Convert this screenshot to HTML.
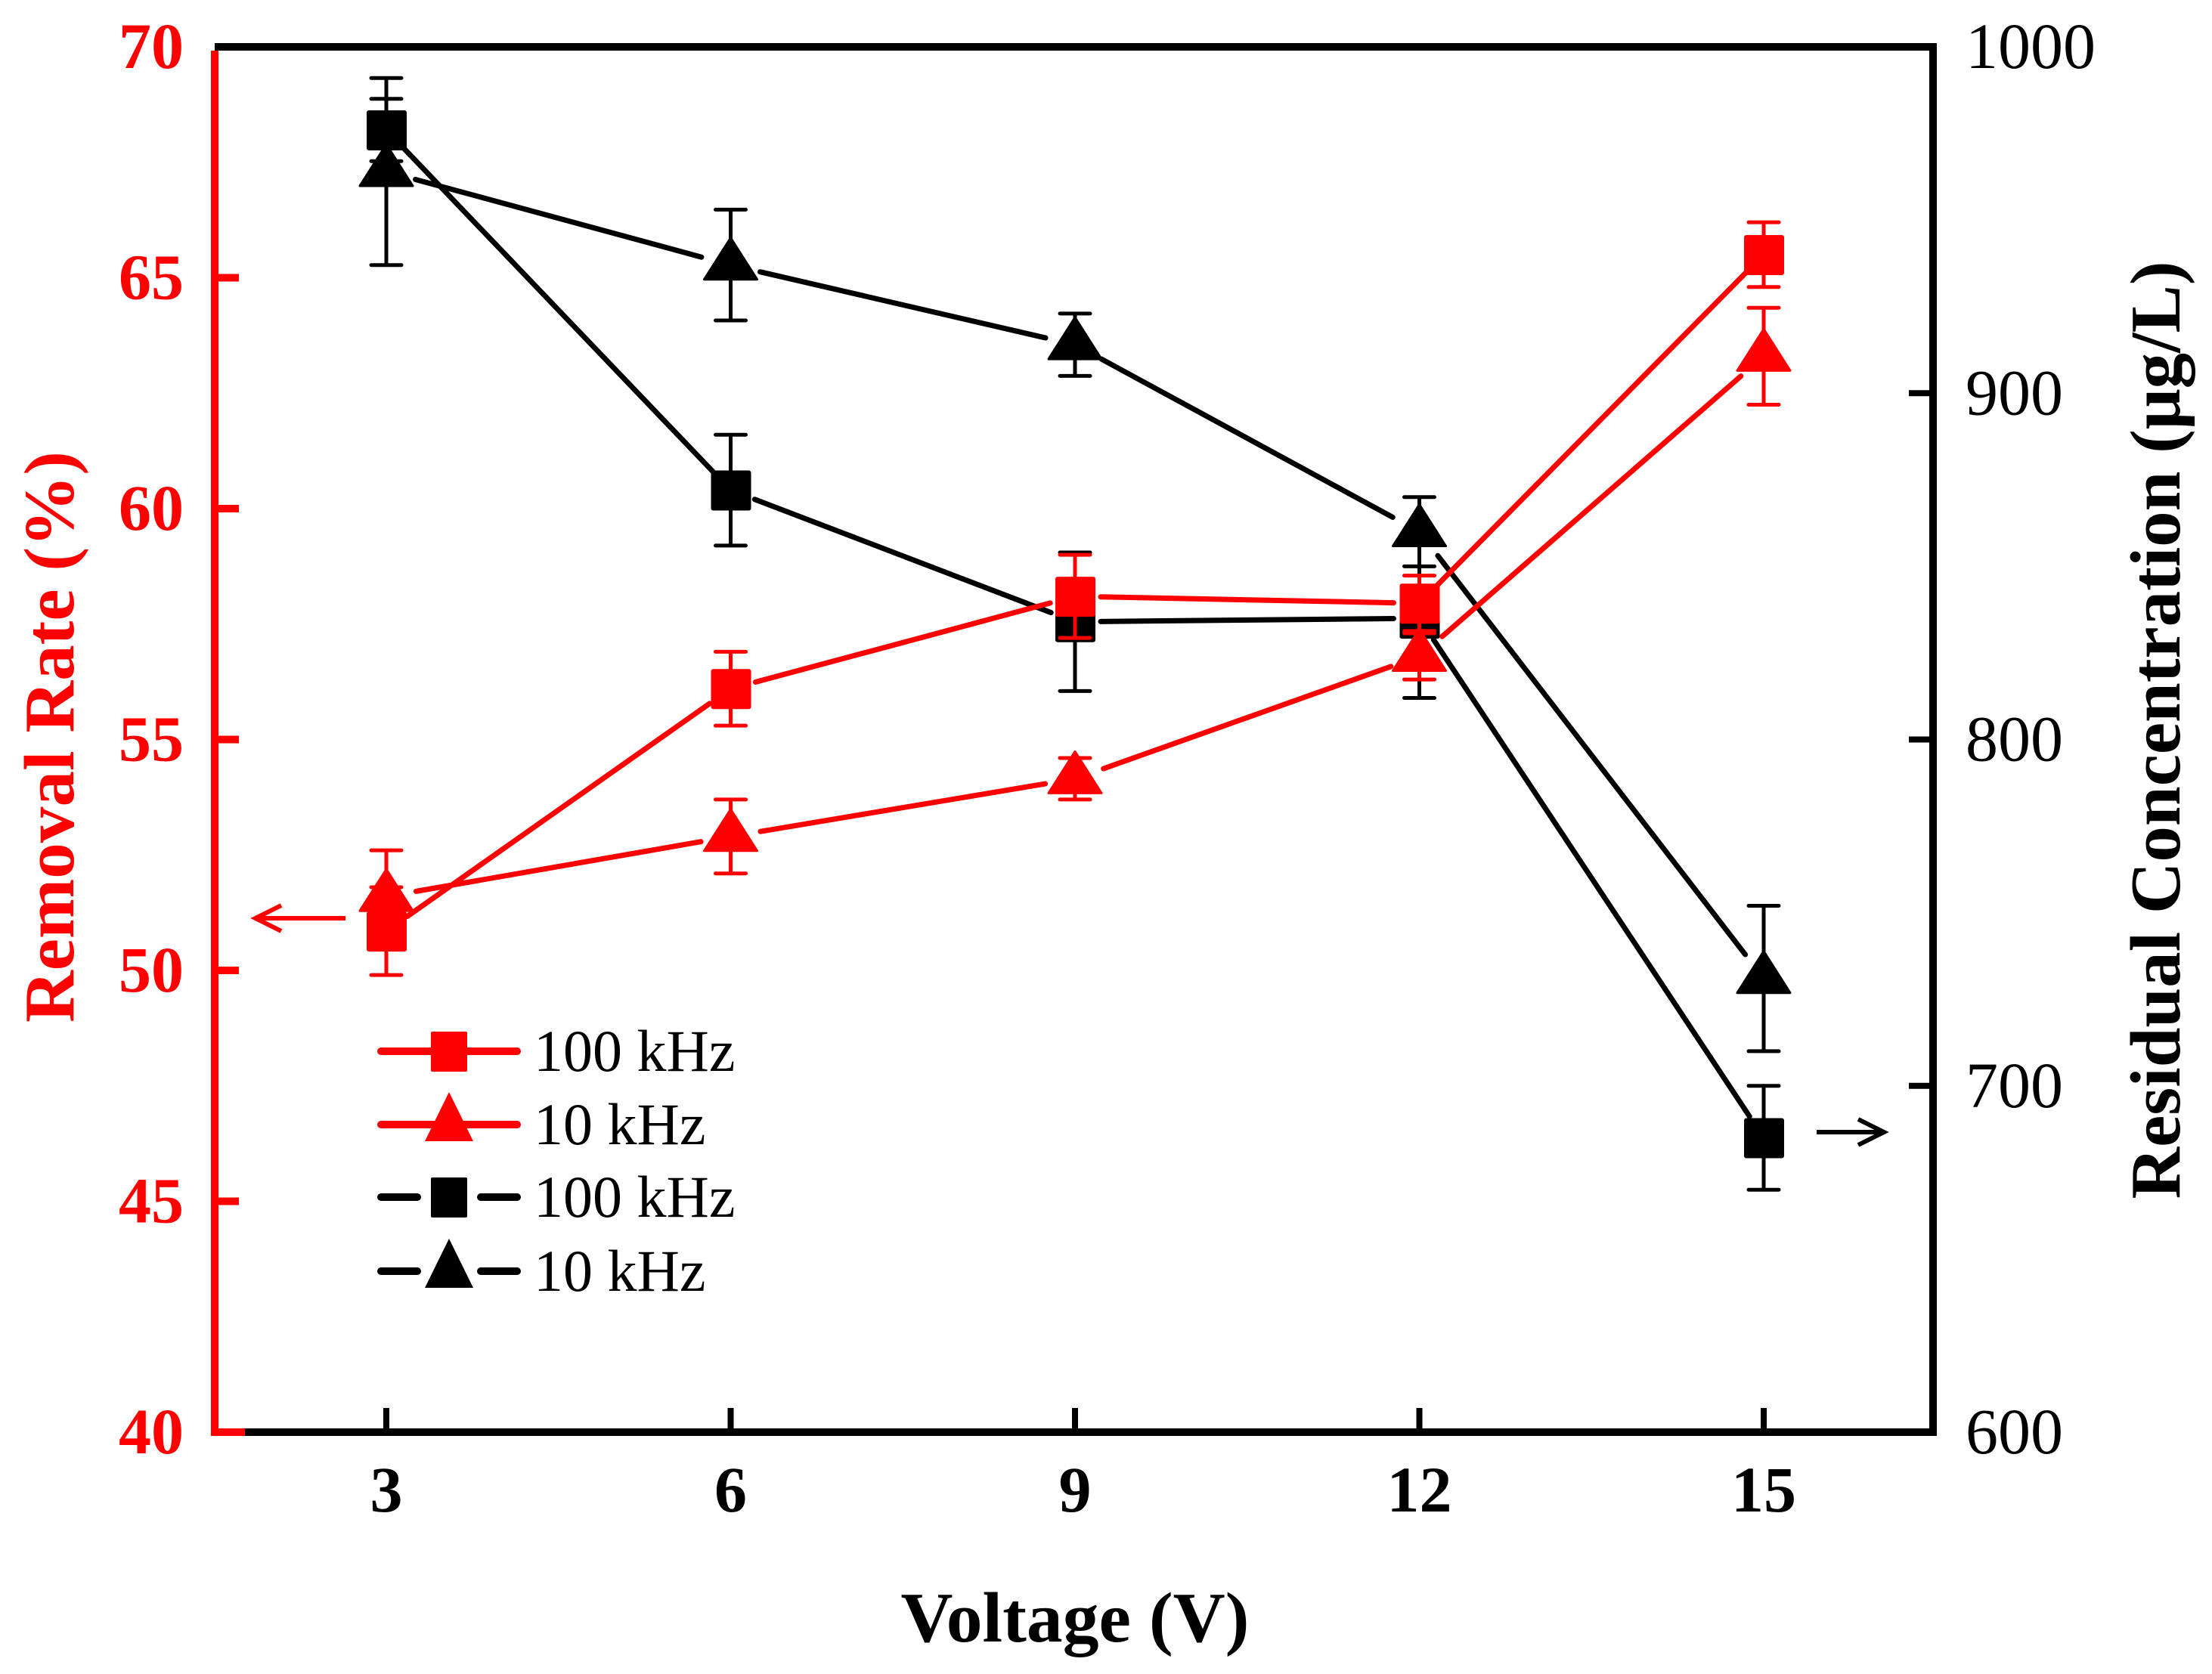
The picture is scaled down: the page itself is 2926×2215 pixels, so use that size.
<!DOCTYPE html>
<html><head><meta charset="utf-8"><style>
html,body{margin:0;padding:0;background:#fff;}
svg{display:block;}
text{font-family:"Liberation Serif",serif;}
</style></head><body>
<svg id="chart" width="2926" height="2215" viewBox="0 0 2926 2215" xmlns="http://www.w3.org/2000/svg">
<g id="frame"></g>
<g id="series"></g>
<g id="labels"></g>
</svg>
<script>
const voltages=[3,6,9,12,15];
const xTicks=[3,6,9,12,15];
const leftTicks=[40,45,50,55,60,65,70];
const rightTicks=[600,700,800,900,1000];
const removal100=[50.85,56.1,58.1,57.95,65.5];
const removal100Err=[0.95,0.8,0.9,0.6,0.7];
const removal10=[51.6,52.9,54.15,56.8,63.3];
const removal10Err=[1.0,0.8,0.45,0.5,1.05];
const resid100=[976,872,834,835,685];
const resid100Err=[9,16,20,23,15];
const resid10=[964,937,914,860,731];
const resid10Err=[27,16,9,10,21];

const NS='http://www.w3.org/2000/svg';
const L=284,R=2557,T=62,B=1895;
function xs(v){return 511+(v-3)/12*(2333-511);}
function yl(v){return B-(v-40)/30*(B-T);}
function yr(v){return B-(v-600)/400*(B-T);}
function mk(tag,attrs,parent){const e=document.createElementNS(NS,tag);for(const k in attrs)e.setAttribute(k,attrs[k]);parent.appendChild(e);return e;}
const frame=document.getElementById('frame'),series=document.getElementById('series'),labels=document.getElementById('labels');

let e;
e=mk('line',{x1:L,y1:T,x2:R,y2:T,stroke:'#000','stroke-width':10},frame);

e=mk('line',{x1:L,y1:B,x2:R+5,y2:B,stroke:'#000','stroke-width':10},frame);

e=mk('line',{x1:R,y1:T-5,x2:R,y2:B+5,stroke:'#000','stroke-width':10},frame);

e=mk('line',{x1:L,y1:T+5,x2:L,y2:B+5,stroke:'#f00','stroke-width':10},frame);

e=mk('line',{x1:L-5,y1:B,x2:L+40,y2:B,stroke:'#f00','stroke-width':10},frame);


xTicks.forEach(v=>{
  const t=mk('line',{x1:xs(v),y1:B,x2:xs(v),y2:B-32,stroke:'#000','stroke-width':8},frame);
  
  const l=mk('text',{x:xs(v),y:2000,'font-size':86,'font-weight':'bold','text-anchor':'middle',fill:'#000'},labels);
  l.textContent=v;
  
});
leftTicks.forEach(v=>{
  if(v>40&&v<70){const t=mk('line',{x1:L,y1:yl(v),x2:L+32,y2:yl(v),stroke:'#f00','stroke-width':10},frame);
  }
  const l=mk('text',{x:243,y:yl(v)+28,'font-size':86,'font-weight':'bold','text-anchor':'end',fill:'#f00'},labels);
  l.textContent=v;
  
});
rightTicks.forEach(v=>{
  if(v>600&&v<1000){const t=mk('line',{x1:R,y1:yr(v),x2:R-32,y2:yr(v),stroke:'#000','stroke-width':8},frame);
  }
  const l=mk('text',{x:2600,y:yr(v)+28,'font-size':86,'text-anchor':'start',fill:'#000'},labels);
  l.textContent=v;
  
});

e=mk('text',{x:1422,y:2172,'font-size':94,'font-weight':'bold','text-anchor':'middle',fill:'#000',textLength:461,lengthAdjust:'spacingAndGlyphs'},labels);
e.textContent='Voltage (V)';
e=mk('text',{x:0,y:0,'font-size':94,'font-weight':'bold','text-anchor':'middle',fill:'#f00',transform:'translate(97,975) rotate(-90)',textLength:756,lengthAdjust:'spacingAndGlyphs'},labels);
e.textContent='Removal Rate (%)';
e=mk('text',{x:0,y:0,'font-size':94,'font-weight':'bold','text-anchor':'middle',fill:'#000',transform:'translate(2883,966) rotate(-90)',textLength:1241,lengthAdjust:'spacingAndGlyphs'},labels);
e.textContent='Residual Concentration (μg/L)';

function drawSeries(vals,errs,yf,color,shape,name){
  const g=mk('g',{},series);
  
  const pts=vals.map((v,i)=>[xs(voltages[i]),yf(v)]);
  const gap=shape==='sq'?34:40;
  for(let i=0;i<pts.length-1;i++){
    const [x1,y1]=pts[i],[x2,y2]=pts[i+1];const d=Math.hypot(x2-x1,y2-y1);
    const ux=(x2-x1)/d,uy=(y2-y1)/d;
    const s=mk('line',{x1:x1+ux*gap,y1:y1+uy*gap,x2:x2-ux*gap,y2:y2-uy*gap,stroke:color,'stroke-width':7,'stroke-linecap':'round'},g);
    
  }
  pts.forEach(([x,y],i)=>{
    const top=yf(vals[i]+errs[i]),bot=yf(vals[i]-errs[i]);
    const eb=mk('path',{d:`M${x},${top}V${bot}M${x-20},${top}H${x+20}M${x-20},${bot}H${x+20}`,stroke:color,'stroke-width':5,fill:'none','stroke-linecap':'round'},g);
    
    let m;
    if(shape==='sq') m=mk('rect',{x:x-26,y:y-26,width:53,height:53,rx:3,fill:color},g);
    else m=mk('path',{d:`M${x},${y-36}L${x+35},${y+19}L${x-35},${y+19}Z`,fill:color,'stroke':color,'stroke-width':3,'stroke-linejoin':'round'},g);
    
  });
}
drawSeries(resid10,resid10Err,yr,'#000','tri','residual-10khz');
drawSeries(resid100,resid100Err,yr,'#000','sq','residual-100khz');
drawSeries(removal10,removal10Err,yl,'#f00','tri','removal-10khz');
drawSeries(removal100,removal100Err,yl,'#f00','sq','removal-100khz');

e=mk('path',{d:'M457,1215H340M372,1198L338,1215L372,1232',stroke:'#f00','stroke-width':6,fill:'none'},labels);

e=mk('path',{d:'M2403,1498H2490M2458,1481L2492,1498L2458,1515',stroke:'#000','stroke-width':6,fill:'none'},labels);


const legRows=[['100 kHz','#f00','sq',1391],['10 kHz','#f00','tri',1488],['100 kHz','#000','sq',1584],['10 kHz','#000','tri',1682]];
const lg=mk('g',{transform:'translate(4,0)'},labels);

legRows.forEach(([txt,c,sh,y])=>{
  const g=mk('g',{},lg);
  
  if(c==='#f00'){mk('line',{x1:500,y1:y,x2:680,y2:y,stroke:c,'stroke-width':10,'stroke-linecap':'round'},g);}
  else{mk('line',{x1:500,y1:y,x2:548,y2:y,stroke:c,'stroke-width':10,'stroke-linecap':'round'},g);
       mk('line',{x1:632,y1:y,x2:680,y2:y,stroke:c,'stroke-width':10,'stroke-linecap':'round'},g);}
  if(sh==='sq') mk('rect',{x:566,y:y-26,width:48,height:53,rx:2,fill:c},g);
  else mk('path',{d:`M${590},${y-43}L${622},${y+22}L${558},${y+22}Z`,fill:c},g);
  const t=mk('text',{x:702,y:y+26,'font-size':78,fill:'#000'},g);
  t.textContent=txt;
});
</script>
</body></html>
